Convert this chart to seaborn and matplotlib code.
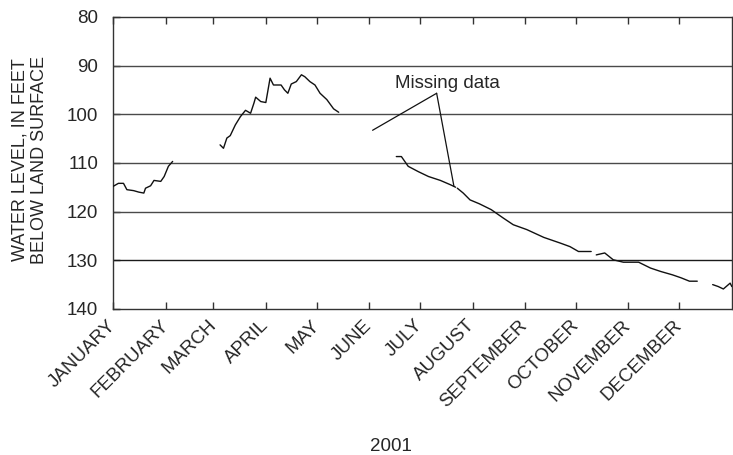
import pandas as pd
import matplotlib
matplotlib.use("Agg")
import matplotlib.pyplot as plt
import seaborn as sns

# Daily water level readings, 2001 (day of year offset from Jan 1, feet below land surface)
seg1_days = [0, 3, 6, 8, 12, 15, 18, 19, 22, 24, 28, 30, 32.5, 35]
seg1_levels = [114.8, 114.2, 114.2, 115.5, 115.7, 116.0, 116.2, 115.2, 114.7, 113.6,
               113.8, 112.8, 110.7, 109.7]

seg2_days = [63, 65, 67, 69, 72, 75, 78, 81, 83, 84, 87, 90, 92.5, 94.5, 99, 101, 103,
             105, 108, 111, 113, 116, 119, 122, 126, 130, 133]
seg2_levels = [106.3, 107.0, 104.9, 104.4, 102.2, 100.5, 99.2, 99.8, 97.7, 96.5, 97.4,
               97.6, 92.6, 94.0, 94.0, 95.0, 95.7, 93.8, 93.3, 91.9, 92.3, 93.3, 94.0,
               95.7, 97.0, 98.9, 99.6]

seg3_days = [167, 170, 174, 180, 186, 193, 199, 202]
seg3_levels = [108.7, 108.7, 110.7, 111.8, 112.8, 113.6, 114.5, 115.0]

seg4_days = [203, 206.5, 210.5, 216, 223, 230, 236, 244, 254, 264, 269.5, 274.5, 282]
seg4_levels = [115.2, 116.2, 117.6, 118.4, 119.6, 121.3, 122.7, 123.7, 125.3, 126.5,
               127.2, 128.2, 128.2]

seg5_days = [285, 290, 295, 301, 310, 317, 323, 330, 335, 340, 344.6]
seg5_levels = [128.9, 128.5, 129.9, 130.4, 130.4, 131.6, 132.3, 133.0, 133.6, 134.3, 134.3]

seg6_days = [353.7, 357, 360, 364, 365]
seg6_levels = [135.0, 135.4, 135.9, 134.7, 135.4]

month_labels = ["JANUARY", "FEBRUARY", "MARCH", "APRIL", "MAY", "JUNE", "JULY",
                "AUGUST", "SEPTEMBER", "OCTOBER", "NOVEMBER", "DECEMBER"]

# annotation pointer ends (day, level)
note_apex = (190.8, 95.7)
note_ends = [(153, 103.3), (201, 114.8)]
note_text_pos = (166.2, 93.6)

start = pd.Timestamp("2001-01-01")


def to_date(d):
    return start + pd.to_timedelta(d, unit="D")


frames = []
segments = [(seg1_days, seg1_levels), (seg2_days, seg2_levels), (seg3_days, seg3_levels),
            (seg4_days, seg4_levels), (seg5_days, seg5_levels), (seg6_days, seg6_levels)]
for i, (d, v) in enumerate(segments):
    frames.append(pd.DataFrame({"date": [to_date(x) for x in d], "level": v, "segment": i}))
df = pd.concat(frames, ignore_index=True)

sns.set_style("white")
plt.rcParams["font.family"] = ["Liberation Sans", "DejaVu Sans"]
plt.rcParams["font.size"] = 13

fig, ax = plt.subplots(figsize=(7.33, 4.55), dpi=100)
fig.subplots_adjust(left=0.1546, right=0.9984, top=0.963, bottom=0.321)

# horizontal grid lines, the 130 ft one is darker in the original
for y in [90, 100, 110, 120]:
    ax.axhline(y, color="#4a4a4a", lw=1.0, zorder=1)
ax.axhline(130, color="#1a1a1a", lw=1.0, zorder=1)

sns.lineplot(data=df, x="date", y="level", units="segment", estimator=None,
             color="#111111", lw=1.0, ax=ax, zorder=3)

ax.set_ylim(140, 80)
ax.set_yticks([80, 90, 100, 110, 120, 130, 140])
ax.set_xlim(start, pd.Timestamp("2002-01-01"))
month_starts = pd.date_range("2001-01-01", periods=12, freq="MS")
ax.set_xticks(month_starts)
ax.set_xticklabels(month_labels, rotation=45, ha="right", va="center",
                   rotation_mode="anchor")

ax.tick_params(axis="x", direction="in", top=True, bottom=True, length=5,
               width=1, color="#333333", pad=10, labelsize=13.5)
ax.tick_params(axis="y", direction="in", left=True, length=5, width=1,
               color="#333333", pad=11, labelsize=13.5)

for s in ax.spines.values():
    s.set_color("#333333")
    s.set_linewidth(1.0)

ax.set_ylabel("WATER LEVEL, IN FEET\nBELOW LAND SURFACE", fontsize=13,
              va="center", ha="center", linespacing=1.15)
ax.yaxis.set_label_coords(-0.135, 0.51)
ax.set_xlabel("2001", fontsize=13.5, va="center")
ax.xaxis.set_label_coords(0.449, -0.4726)

ax.text(to_date(note_text_pos[0]), note_text_pos[1], "Missing data", fontsize=13.5,
        ha="left", va="center", zorder=4)
for end in note_ends:
    ax.annotate("", xy=(to_date(end[0]), end[1]),
                xytext=(to_date(note_apex[0]), note_apex[1]),
                arrowprops=dict(arrowstyle="-", lw=0.9, color="#111111",
                                shrinkA=0, shrinkB=0))

fig.savefig("out.png", dpi=100)
